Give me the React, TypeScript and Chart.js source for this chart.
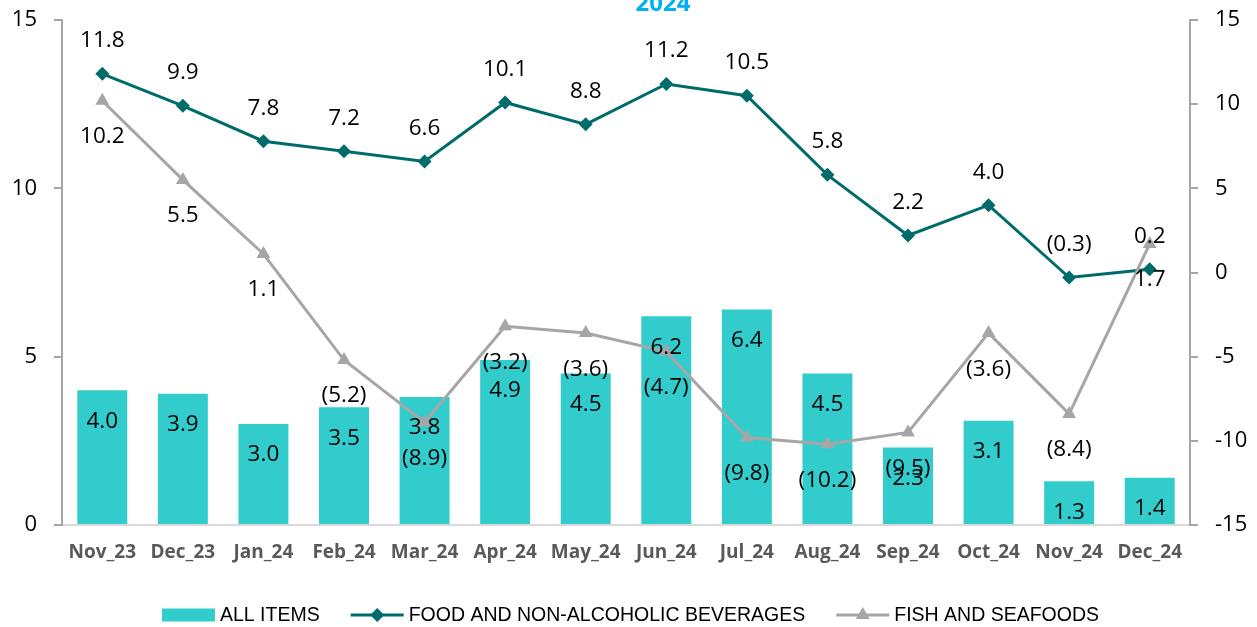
import React, { useEffect, useRef } from 'react';
import { Chart, registerables } from 'chart.js';

Chart.register(...registerables);

const categories = ['Nov_23', 'Dec_23', 'Jan_24', 'Feb_24', 'Mar_24', 'Apr_24', 'May_24', 'Jun_24', 'Jul_24', 'Aug_24', 'Sep_24', 'Oct_24', 'Nov_24', 'Dec_24'];
const allItems = [4.0, 3.9, 3.0, 3.5, 3.8, 4.9, 4.5, 6.2, 6.4, 4.5, 2.3, 3.1, 1.3, 1.4];
const foodBeverages = [11.8, 9.9, 7.8, 7.2, 6.6, 10.1, 8.8, 11.2, 10.5, 5.8, 2.2, 4.0, -0.3, 0.2];
const fishSeafoods = [10.2, 5.5, 1.1, -5.2, -8.9, -3.2, -3.6, -4.7, -9.8, -10.2, -9.5, -3.6, -8.4, 1.7];
const leftTicks = [0, 5, 10, 15];
const rightTicks = [-15, -10, -5, 0, 5, 10, 15];

const seriesNames = ['ALL ITEMS', 'FOOD AND NON-ALCOHOLIC BEVERAGES', 'FISH AND SEAFOODS'];
const titleText = '2024';

const W = 1257;
const H = 627;
const BAR = '#33CCCC';
const FOOD = '#006B6B';
const FISH = '#A6A6A6';
const LABEL_FONT = '22.5px "Open Sans", "Noto Sans", sans-serif';

const fmt = (v: number) => (v < 0 ? `(${Math.abs(v).toFixed(1)})` : v.toFixed(1));

const labelsPlugin = {
  id: 'valueLabels',
  afterDatasetsDraw(chart: any) {
    const ctx = chart.ctx;
    ctx.save();
    ctx.font = LABEL_FONT;
    ctx.fillStyle = '#000';
    ctx.textAlign = 'center';
    ctx.textBaseline = 'middle';
    chart.data.datasets.forEach((ds: any, di: number) => {
      const meta = chart.getDatasetMeta(di);
      meta.data.forEach((el: any, i: number) => {
        const v = ds.data[i];
        let y = el.y;
        if (ds.type === 'bar') y = el.y + 31;
        else if (di === 1) y = el.y - 33;
        else y = el.y + 36;
        ctx.fillText(fmt(v), el.x, y);
      });
    });
    ctx.restore();
  },
};

const decorPlugin = {
  id: 'decor',
  afterDraw(chart: any) {
    const ctx = chart.ctx;
    ctx.save();
    // title (partially cut at the top)
    ctx.font = 'bold 24px "Open Sans", sans-serif';
    ctx.fillStyle = '#00B0F0';
    ctx.textAlign = 'center';
    ctx.textBaseline = 'alphabetic';
    ctx.fillText(titleText, 663, 11);

    // legend
    ctx.font = '19.5px "Liberation Sans", Arial, sans-serif';
    ctx.textBaseline = 'middle';
    ctx.textAlign = 'left';
    const sw = 53;
    const gapText = 5;
    const gapItem = 31;
    const widths = seriesNames.map((n) => ctx.measureText(n).width);
    const total = widths.reduce((a, b) => a + b, 0) + seriesNames.length * (sw + gapText) + (seriesNames.length - 1) * gapItem;
    let x = W / 2 - total / 2 + 2;
    const cy = 615;
    seriesNames.forEach((name, i) => {
      if (i === 0) {
        ctx.fillStyle = BAR;
        ctx.fillRect(x, cy - 6.5, sw, 13);
      } else {
        const col = i === 1 ? FOOD : FISH;
        ctx.strokeStyle = col;
        ctx.lineWidth = 3;
        ctx.beginPath();
        ctx.moveTo(x, cy);
        ctx.lineTo(x + sw, cy);
        ctx.stroke();
        ctx.fillStyle = col;
        const mx = x + sw / 2;
        ctx.beginPath();
        if (i === 1) {
          ctx.moveTo(mx, cy - 7);
          ctx.lineTo(mx + 7, cy);
          ctx.lineTo(mx, cy + 7);
          ctx.lineTo(mx - 7, cy);
        } else {
          ctx.moveTo(mx, cy - 8);
          ctx.lineTo(mx + 7, cy + 4);
          ctx.lineTo(mx - 7, cy + 4);
        }
        ctx.closePath();
        ctx.fill();
      }
      ctx.fillStyle = '#000';
      ctx.fillText(name, x + sw + gapText, cy + 1);
      x += sw + gapText + widths[i] + gapItem;
    });
    ctx.restore();
  },
};

export default function App() {
  const ref = useRef<HTMLCanvasElement>(null);
  useEffect(() => {
    const chart = new Chart(ref.current as HTMLCanvasElement, {
      type: 'bar',
      data: {
        labels: categories,
        datasets: [
          {
            type: 'bar',
            label: seriesNames[0],
            data: allItems,
            backgroundColor: BAR,
            borderWidth: 0,
            barPercentage: 0.62,
            categoryPercentage: 1,
            yAxisID: 'y',
            order: 3,
          } as any,
          {
            type: 'line',
            label: seriesNames[1],
            data: foodBeverages,
            borderColor: FOOD,
            backgroundColor: FOOD,
            borderWidth: 3,
            pointStyle: 'rectRot',
            pointRadius: 7,
            pointBorderWidth: 0,
            tension: 0,
            yAxisID: 'y1',
            order: 2,
          } as any,
          {
            type: 'line',
            label: seriesNames[2],
            data: fishSeafoods,
            borderColor: FISH,
            backgroundColor: FISH,
            borderWidth: 3,
            pointStyle: 'triangle',
            pointRadius: 8,
            pointBorderWidth: 0,
            tension: 0,
            yAxisID: 'y1',
            order: 1,
          } as any,
        ],
      },
      options: {
        responsive: false,
        animation: false,
        layout: { padding: { top: 20, bottom: 50, left: 0, right: 0 } },
        plugins: {
          legend: { display: false },
          tooltip: { enabled: false },
          title: { display: false },
        },
        scales: {
          x: {
            grid: { display: false, drawTicks: false },
            border: { display: true, color: '#D9D9D9', width: 2 },
            ticks: {
              color: '#595959',
              font: { family: '"Open Sans", sans-serif', size: 19, weight: 'bold' },
              padding: 16,
              maxRotation: 0,
              autoSkip: false,
            },
            afterFit: (s: any) => { s.height = 52; s.paddingLeft = 0; s.paddingRight = 0; },
          },
          y: {
            position: 'left',
            min: 0,
            max: 15,
            afterBuildTicks: (s: any) => { s.ticks = leftTicks.map((v) => ({ value: v })); },
            grid: { drawOnChartArea: false, drawTicks: true, tickLength: 8, color: '#A6A6A6', lineWidth: 2 },
            border: { display: true, color: '#A6A6A6', width: 2 },
            ticks: {
              color: '#000',
              font: { family: '"Open Sans", sans-serif', size: 22 },
              padding: 17,
            },
            afterFit: (s: any) => { s.width = 62; s.paddingTop = 0; s.paddingBottom = 0; },
          },
          y1: {
            position: 'right',
            min: -15,
            max: 15,
            afterBuildTicks: (s: any) => { s.ticks = rightTicks.map((v) => ({ value: v })); },
            grid: { drawOnChartArea: false, drawTicks: true, tickLength: 8, color: '#A6A6A6', lineWidth: 2 },
            border: { display: true, color: '#A6A6A6', width: 2 },
            ticks: {
              color: '#000',
              font: { family: '"Open Sans", sans-serif', size: 22 },
              padding: 17,
            },
            afterFit: (s: any) => { s.width = 67; s.paddingTop = 0; s.paddingBottom = 0; },
          },
        },
      } as any,
      plugins: [labelsPlugin, decorPlugin],
    });
    return () => chart.destroy();
  }, []);
  return (
    <div style={{ position: 'fixed', left: 0, top: 0, width: W, height: H, background: '#fff' }}>
      <canvas ref={ref} width={W} height={H} style={{ width: W, height: H, display: 'block' }} />
    </div>
  );
}
